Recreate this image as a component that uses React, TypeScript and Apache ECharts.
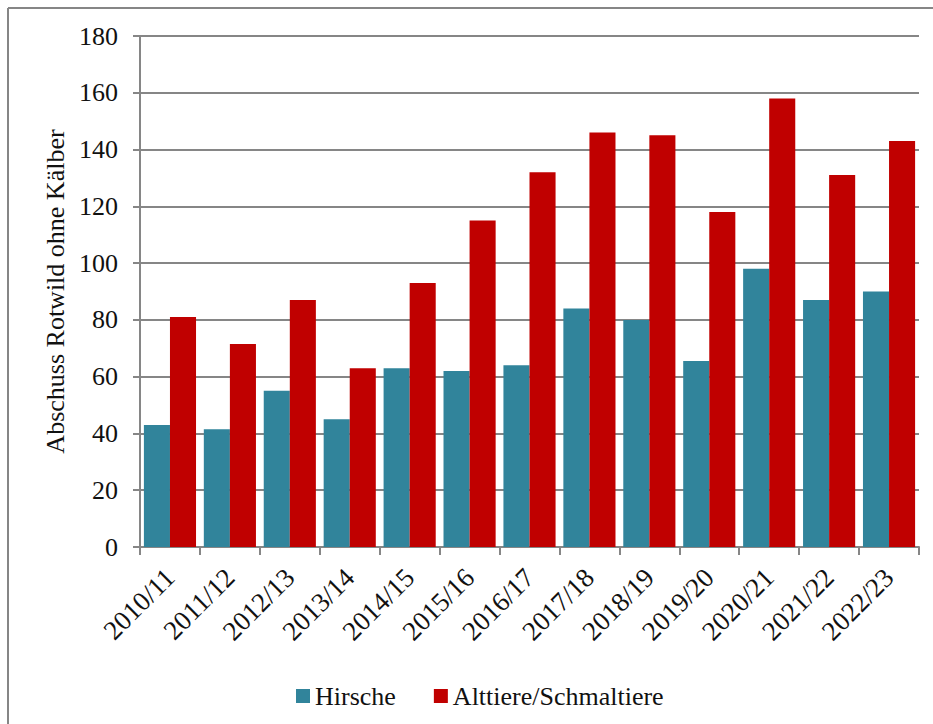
import React, { useEffect, useRef } from "react";
import * as echarts from "echarts";

// Jagdjahre (hunting seasons)
const seasons = [
  "2010/11", "2011/12", "2012/13", "2013/14", "2014/15", "2015/16", "2016/17",
  "2017/18", "2018/19", "2019/20", "2020/21", "2021/22", "2022/23",
];

// Abschuss Hirsche
const hirsche = [43, 41.5, 55, 45, 63, 62, 64, 84, 80, 65.5, 98, 87, 90];

// Abschuss Alttiere/Schmaltiere
const alttiere = [81, 71.5, 87, 63, 93, 115, 132, 146, 145, 118, 158, 131, 143];

const yTicks = { min: 0, max: 180, interval: 20 };

const FONT = "'Liberation Serif', 'DejaVu Serif', serif";
const GRAY = "#868686";
const TEXT = "#111111";

export default function App() {
  const ref = useRef<HTMLDivElement>(null);

  useEffect(() => {
    if (!ref.current) return;
    const chart = echarts.init(ref.current, undefined, { renderer: "svg" });
    chart.setOption({
      animation: false,
      backgroundColor: "#ffffff",
      textStyle: { fontFamily: FONT, color: TEXT },
      graphic: [
        {
          type: "line",
          shape: { x1: 8, y1: 8, x2: 933, y2: 8 },
          style: { stroke: GRAY, lineWidth: 2 },
        },
        {
          type: "line",
          shape: { x1: 8, y1: 8, x2: 8, y2: 724 },
          style: { stroke: GRAY, lineWidth: 2 },
        },
      ],
      grid: { left: 140, right: 14, top: 36, bottom: 177, containLabel: false },
      legend: {
        left: 291,
        top: 678,
        itemWidth: 14,
        itemHeight: 14,
        itemGap: 38,
        icon: "rect",
        textStyle: { fontFamily: FONT, fontSize: 26, color: TEXT },
        data: ["Hirsche", "Alttiere/Schmaltiere"],
      },
      xAxis: {
        type: "category",
        data: seasons,
        axisLine: { lineStyle: { color: GRAY, width: 2 } },
        axisTick: { show: true, length: 8, lineStyle: { color: GRAY, width: 2 } },
        axisLabel: {
          rotate: 45,
          interval: 0,
          margin: 26,
          fontFamily: FONT,
          fontSize: 27,
          color: TEXT,
        },
      },
      yAxis: {
        type: "value",
        min: yTicks.min,
        max: yTicks.max,
        interval: yTicks.interval,
        name: "Abschuss Rotwild ohne Kälber",
        nameLocation: "middle",
        nameGap: 70,
        nameTextStyle: { fontFamily: FONT, fontSize: 26, color: TEXT },
        axisLine: { show: true, lineStyle: { color: GRAY, width: 2 } },
        axisTick: { show: true, length: 7, lineStyle: { color: GRAY, width: 2 } },
        axisLabel: { margin: 22, fontFamily: FONT, fontSize: 26, color: TEXT },
        splitLine: { lineStyle: { color: GRAY, width: 2 } },
      },
      series: [
        {
          name: "Hirsche",
          type: "bar",
          data: hirsche,
          barGap: "0%",
          barCategoryGap: "13%",
          itemStyle: { color: "#31849B" },
        },
        {
          name: "Alttiere/Schmaltiere",
          type: "bar",
          data: alttiere,
          barGap: "0%",
          barCategoryGap: "13%",
          itemStyle: { color: "#C00000" },
        },
      ],
    });
    return () => chart.dispose();
  }, []);

  return (
    <div
      ref={ref}
      style={{ position: "fixed", left: 0, top: 0, width: 933, height: 724 }}
    />
  );
}
